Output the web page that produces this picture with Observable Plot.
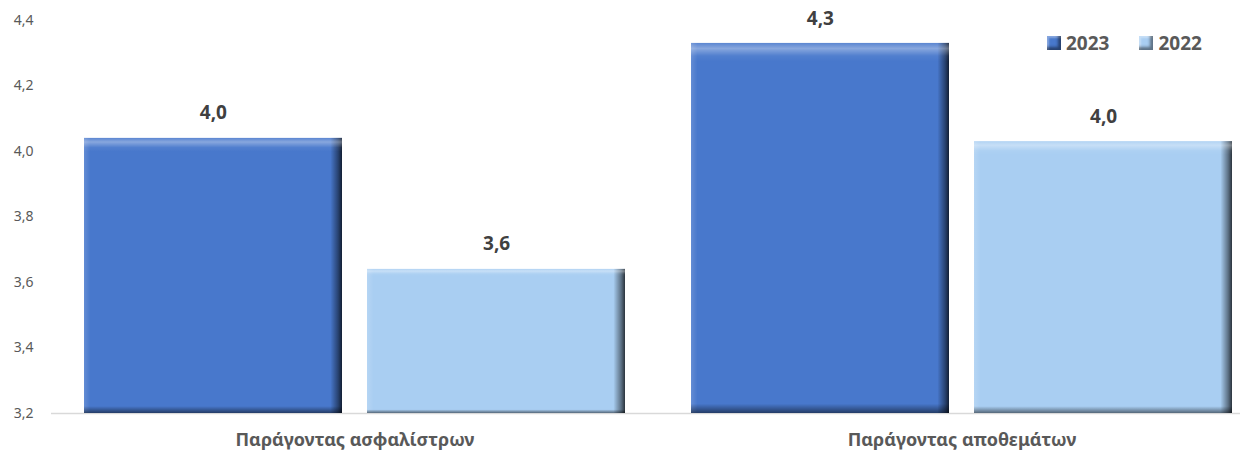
<!DOCTYPE html>
<html>
<head>
<meta charset="utf-8">
<script src="https://cdn.jsdelivr.net/npm/d3@7"></script>
<script src="https://cdn.jsdelivr.net/npm/@observablehq/plot@0.6"></script>
<style>
  body { margin: 0; background: #fff; font-family: "Noto Sans", sans-serif; }
  #chart { position: relative; width: 1255px; height: 455px; }
  #legend { position: absolute; top: 30px; left: 1047px; display: flex; align-items: center; font-weight: bold; font-size: 19px; color: #595959; }
  .item { display: flex; align-items: center; margin-right: 30px; }
  .sw { width: 14px; height: 14px; margin-right: 5px; box-shadow: inset -3px -3px 3px rgba(0,0,0,0.45), inset 2px 2px 2px rgba(255,255,255,0.35); }
</style>
</head>
<body>
<div id="chart"><div id="legend"></div></div>
<script>
const categories = ["Παράγοντας ασφαλίστρων", "Παράγοντας αποθεμάτων"];
const series = ["2023", "2022"];
const values2023 = [4.04, 4.33];
const values2022 = [3.64, 4.03];
const yTicks = [3.2, 3.4, 3.6, 3.8, 4.0, 4.2, 4.4];
const colors = ["#4878CC", "#A9CEF2"];

const fmt = d => d.toFixed(1).replace(".", ",");
const d23 = categories.map((c, i) => ({category: c, value: values2023[i]}));
const d22 = categories.map((c, i) => ({category: c, value: values2022[i]}));

const W = 1255, H = 455, ml = 83, mr = 22, mt = 20, mb = 42;
const barInset = 283, half = 141.6;

function bars(data, color, side) {
  const ins = side < 0 ? {insetRight: barInset} : {insetLeft: barInset};
  return [
    Plot.barY(data, {x: "category", y1: 3.2, y2: "value", fill: color, ...ins}),
    Plot.barY(data, {x: "category", y1: 3.2, y2: "value", fill: "url(#hShade)", ...ins}),
    Plot.barY(data, {x: "category", y1: 3.2, y2: "value", fill: "url(#vShade)", ...ins}),
    Plot.text(data, {x: "category", y: "value", text: d => fmt(d.value), dx: side * half, dy: -25,
      fontSize: 19, fontWeight: "bold", fill: "#404040"})
  ];
}

const svg = Plot.plot({
  width: W, height: H,
  marginLeft: ml, marginRight: mr, marginTop: mt, marginBottom: mb,
  style: {fontFamily: "'Noto Sans', sans-serif", background: "#fff"},
  x: {domain: categories, paddingInner: 0.108, paddingOuter: 0, label: null},
  y: {domain: [3.2, 4.4], label: null},
  marks: [
    Plot.ruleY([3.2], {stroke: "#d9d9d9", strokeWidth: 1.5, insetLeft: -32, insetRight: -7}),
    ...bars(d23, colors[0], -1),
    ...bars(d22, colors[1], 1),
    Plot.axisY(yTicks, {tickSize: 0, tickPadding: 50, tickFormat: fmt, fontSize: 14, color: "#595959", label: null}),
    Plot.axisX({tickSize: 0, tickPadding: 20, fontSize: 18, fontWeight: "bold", color: "#595959", label: null})
  ]
});

svg.insertAdjacentHTML("afterbegin", `
<defs>
  <linearGradient id="hShade" x1="0" y1="0" x2="1" y2="0">
    <stop offset="0" stop-color="#fff" stop-opacity="0.15"/>
    <stop offset="0.025" stop-color="#fff" stop-opacity="0"/>
    <stop offset="0.955" stop-color="#000" stop-opacity="0"/>
    <stop offset="0.985" stop-color="#000" stop-opacity="0.45"/>
    <stop offset="1" stop-color="#000" stop-opacity="0.75"/>
  </linearGradient>
  <linearGradient id="vShade" x1="0" y1="0" x2="0" y2="1">
    <stop offset="0" stop-color="#fff" stop-opacity="0.1"/>
    <stop offset="0.015" stop-color="#fff" stop-opacity="0.35"/>
    <stop offset="0.035" stop-color="#fff" stop-opacity="0.05"/>
    <stop offset="0.05" stop-color="#fff" stop-opacity="0"/>
    <stop offset="0.975" stop-color="#000" stop-opacity="0"/>
    <stop offset="1" stop-color="#000" stop-opacity="0.5"/>
  </linearGradient>
</defs>`);

document.getElementById("chart").prepend(svg);

const legend = document.getElementById("legend");
series.forEach((s, i) => {
  const item = document.createElement("div");
  item.className = "item";
  const sw = document.createElement("span");
  sw.className = "sw";
  sw.style.background = colors[i];
  const t = document.createElement("span");
  t.textContent = s;
  item.append(sw, t);
  legend.append(item);
});
</script>
</body>
</html>
